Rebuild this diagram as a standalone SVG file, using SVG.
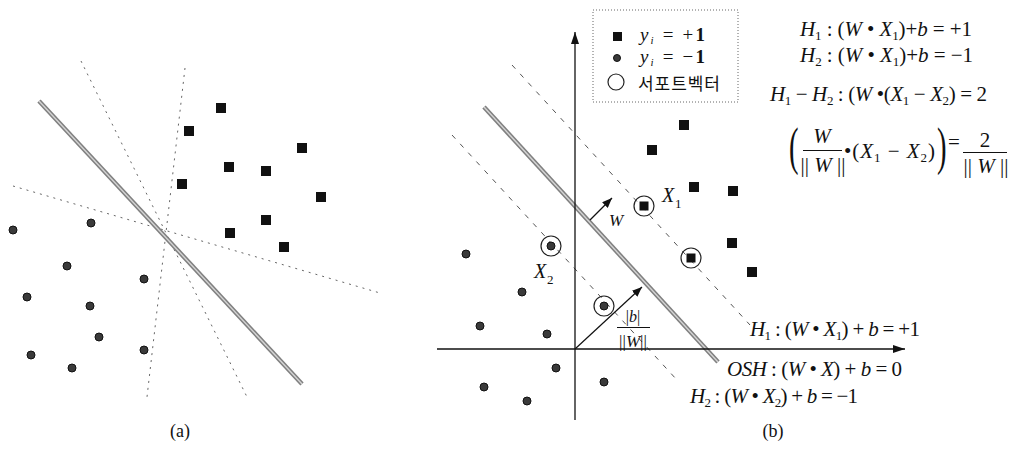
<svg xmlns="http://www.w3.org/2000/svg" width="1012" height="458" viewBox="0 0 1012 458">
<style>
.bg{fill:#fff}
.t{font-family:"Liberation Serif","Times New Roman",serif;fill:#111}
.eq{font-size:21px}
.i{font-style:italic}
.s{font-size:13px}
.sq{fill:#111}
.dot{fill:#3a3a3a;stroke:#111;stroke-width:1}
.sv{fill:none;stroke:#222;stroke-width:1.2}
.dash-a{stroke:#666;stroke-width:1;stroke-dasharray:2 5;fill:none}
.dash-b{stroke:#555;stroke-width:1;stroke-dasharray:5 7;fill:none}
.thick-o{stroke:#808080;stroke-width:4.5;fill:none}
.thick-i{stroke:#d4d4d4;stroke-width:1.4;fill:none}
.ax{stroke:#111;stroke-width:1.3;fill:none}
.ar{stroke:#111;stroke-width:1.2;fill:none}
.kr{font-family:"Noto Sans CJK KR","Noto Sans",sans-serif;font-size:17px;fill:#111}
</style>
<defs>
<marker id="ah" viewBox="0 0 12 8" refX="12" refY="4" markerWidth="12" markerHeight="8" markerUnits="userSpaceOnUse" orient="auto"><path d="M0,0 L12,4 L0,8 z" fill="#111"/></marker>
<marker id="ahs" viewBox="0 0 10 8" refX="10" refY="4" markerWidth="10" markerHeight="8" markerUnits="userSpaceOnUse" orient="auto"><path d="M0,0 L10,4 L0,8 z" fill="#111"/></marker>
</defs>
<rect class="bg" x="0" y="0" width="1012" height="458"/>

<!-- Panel (a) lines -->
<g id="lines-a">
<line class="dash-a" x1="81" y1="61" x2="248" y2="399"/>
<line class="dash-a" x1="185" y1="68" x2="147" y2="397"/>
<line class="dash-a" x1="13" y1="186" x2="380" y2="293"/>
<line class="thick-o" x1="39" y1="101" x2="302" y2="384"/>
<line class="thick-i" x1="39" y1="101" x2="302" y2="384"/>
</g>

<!-- Panel (b) lines -->
<g id="lines-b">
<line class="dash-b" x1="512" y1="65" x2="750" y2="325"/>
<line class="dash-b" x1="452" y1="135" x2="677" y2="380"/>
<line class="thick-o" x1="484" y1="107" x2="718" y2="362"/>
<line class="thick-i" x1="484" y1="107" x2="718" y2="362"/>
</g>

<g id="connectors">
<line class="ax" x1="575" y1="420" x2="575" y2="32" marker-end="url(#ah)"/>
<line class="ax" x1="437" y1="349" x2="905" y2="349" marker-end="url(#ah)"/>
<line class="ar" x1="590" y1="220" x2="612" y2="198" marker-end="url(#ahs)"/>
<line class="ar" x1="575" y1="349" x2="642" y2="287" marker-end="url(#ahs)"/>
</g>

<!-- Panel (a) points -->
<g id="a-pos">
<g id="a-s1"><rect class="sq" x="216" y="103" width="10" height="10"/></g>
<g id="a-s2"><rect class="sq" x="184" y="126" width="10" height="10"/></g>
<g id="a-s3"><rect class="sq" x="297" y="143" width="10" height="10"/></g>
<g id="a-s4"><rect class="sq" x="224" y="162" width="10" height="10"/></g>
<g id="a-s5"><rect class="sq" x="261" y="166" width="10" height="10"/></g>
<g id="a-s6"><rect class="sq" x="177" y="179" width="10" height="10"/></g>
<g id="a-s7"><rect class="sq" x="316" y="192" width="10" height="10"/></g>
<g id="a-s8"><rect class="sq" x="261" y="215" width="10" height="10"/></g>
<g id="a-s9"><rect class="sq" x="225" y="228" width="10" height="10"/></g>
<g id="a-s10"><rect class="sq" x="279" y="242" width="10" height="10"/></g>
</g>
<g id="a-neg">
<g id="a-d1"><circle class="dot" cx="13" cy="230" r="4"/></g>
<g id="a-d2"><circle class="dot" cx="91" cy="223" r="4"/></g>
<g id="a-d3"><circle class="dot" cx="67" cy="266" r="4"/></g>
<g id="a-d4"><circle class="dot" cx="144" cy="279" r="4"/></g>
<g id="a-d5"><circle class="dot" cx="27" cy="297" r="4"/></g>
<g id="a-d6"><circle class="dot" cx="90" cy="306" r="4"/></g>
<g id="a-d7"><circle class="dot" cx="99" cy="337" r="4"/></g>
<g id="a-d8"><circle class="dot" cx="31" cy="355" r="4"/></g>
<g id="a-d9"><circle class="dot" cx="144" cy="350" r="4"/></g>
<g id="a-d10"><circle class="dot" cx="72" cy="368" r="4"/></g>
</g>

<!-- Panel (b) points -->
<g id="b-pos">
<g id="b-s1"><rect class="sq" x="679" y="120" width="10" height="10"/></g>
<g id="b-s2"><rect class="sq" x="647" y="145" width="10" height="10"/></g>
<g id="b-s3"><rect class="sq" x="689" y="182" width="10" height="10"/></g>
<g id="b-s4"><rect class="sq" x="728" y="186" width="10" height="10"/></g>
<g id="b-s5"><rect class="sq" x="727" y="238" width="10" height="10"/></g>
<g id="b-s6"><rect class="sq" x="747" y="267" width="10" height="10"/></g>
<g id="b-sv1"><rect class="sq" x="639.5" y="201.5" width="9" height="9"/><circle class="sv" cx="644" cy="206" r="10"/></g>
<g id="b-sv2"><rect class="sq" x="686.5" y="253.5" width="9" height="9"/><circle class="sv" cx="691" cy="258" r="10"/></g>
</g>
<g id="b-neg">
<g id="b-d1"><circle class="dot" cx="466" cy="254" r="4"/></g>
<g id="b-d2"><circle class="dot" cx="522" cy="292" r="4"/></g>
<g id="b-d3"><circle class="dot" cx="480" cy="326" r="4"/></g>
<g id="b-d4"><circle class="dot" cx="547" cy="334" r="4"/></g>
<g id="b-d5"><circle class="dot" cx="556" cy="368" r="4"/></g>
<g id="b-d6"><circle class="dot" cx="484" cy="387" r="4"/></g>
<g id="b-d7"><circle class="dot" cx="527" cy="401" r="4"/></g>
<g id="b-d8"><circle class="dot" cx="604" cy="382" r="4"/></g>
<g id="b-sv3"><circle class="dot" cx="551" cy="246" r="4"/><circle class="sv" cx="551" cy="246" r="10"/></g>
<g id="b-sv4"><circle class="dot" cx="604" cy="306" r="4"/><circle class="sv" cx="604" cy="306" r="10"/></g>
</g>

<!-- point labels -->
<g id="labels-b">
<text class="t i" x="662" y="202" font-size="20">X</text><text class="t" x="675" y="208" font-size="13">1</text>
<text class="t i" x="534" y="278" font-size="20">X</text><text class="t" x="547" y="284" font-size="13">2</text>
<text class="t i" x="609" y="226" font-size="17">W</text>
<g id="b-frac">
<text class="t" x="633" y="322" font-size="16" text-anchor="middle">|<tspan class="i">b</tspan>|</text>
<line x1="617" y1="327.5" x2="650" y2="327.5" stroke="#111" stroke-width="1"/>
<text class="t" x="633" y="347" font-size="17" text-anchor="middle">||<tspan class="i">W</tspan>||</text>
</g>
</g>

<!-- legend -->
<g id="legend">
<rect x="593" y="10" width="145" height="92" fill="none" stroke="#666" stroke-width="1" stroke-dasharray="1 2"/>
<rect class="sq" x="613" y="32" width="9" height="9"/>
<text class="t" x="640" y="41" font-size="19" textLength="65" lengthAdjust="spacing"><tspan class="i">y</tspan><tspan font-size="11" dy="3" class="i">i</tspan><tspan dy="-3"> = +</tspan><tspan font-weight="bold">1</tspan></text>
<circle class="dot" cx="617" cy="58" r="3.5"/>
<text class="t" x="640" y="63" font-size="19" textLength="65" lengthAdjust="spacing"><tspan class="i">y</tspan><tspan font-size="11" dy="3" class="i">i</tspan><tspan dy="-3"> = −</tspan><tspan font-weight="bold">1</tspan></text>
<circle class="sv" cx="616" cy="82" r="8"/>
<text class="kr" x="638" y="90" font-size="16" textLength="82" lengthAdjust="spacing">서포트벡터</text>
</g>

<!-- equations top right -->
<g id="equations">
<text class="t eq" x="800" y="36" textLength="172" lengthAdjust="spacing"><tspan class="i">H</tspan><tspan class="s" dy="4">1</tspan><tspan dy="-4"> : (</tspan><tspan class="i">W</tspan> • <tspan class="i">X</tspan><tspan class="s" dy="4">1</tspan><tspan dy="-4">)+</tspan><tspan class="i">b</tspan> = +1</text>
<text class="t eq" x="800" y="62" textLength="173" lengthAdjust="spacing"><tspan class="i">H</tspan><tspan class="s" dy="4">2</tspan><tspan dy="-4"> : (</tspan><tspan class="i">W</tspan> • <tspan class="i">X</tspan><tspan class="s" dy="4">1</tspan><tspan dy="-4">)+</tspan><tspan class="i">b</tspan> = −1</text>
<text class="t eq" x="770" y="101" textLength="217" lengthAdjust="spacing"><tspan class="i">H</tspan><tspan class="s" dy="4">1</tspan><tspan dy="-4"> − </tspan><tspan class="i">H</tspan><tspan class="s" dy="4">2</tspan><tspan dy="-4"> : (</tspan><tspan class="i">W</tspan> •(<tspan class="i">X</tspan><tspan class="s" dy="4">1</tspan><tspan dy="-4"> − </tspan><tspan class="i">X</tspan><tspan class="s" dy="4">2</tspan><tspan dy="-4">) = 2</tspan></text>
<g id="eq4">
<text class="t" font-size="52" transform="translate(789,164) scale(0.55,1)">(</text>
<text class="t eq i" x="822" y="143" text-anchor="middle">W</text>
<line x1="803" y1="150.5" x2="842" y2="150.5" stroke="#111" stroke-width="1"/>
<text class="t eq" x="823" y="172" text-anchor="middle">|| <tspan class="i">W</tspan> ||</text>
<text class="t eq" x="844" y="158" textLength="91" lengthAdjust="spacing">•(<tspan class="i">X</tspan><tspan class="s" dy="4">1</tspan><tspan dy="-4"> − </tspan><tspan class="i">X</tspan><tspan class="s" dy="4">2</tspan><tspan dy="-4">)</tspan></text>
<text class="t" font-size="52" transform="translate(937,164) scale(0.55,1)">)</text>
<text class="t eq" x="948" y="149">=</text>
<text class="t eq" x="985" y="147" text-anchor="middle">2</text>
<line x1="963" y1="152.5" x2="1007" y2="152.5" stroke="#111" stroke-width="1"/>
<text class="t eq" x="986" y="173" text-anchor="middle">|| <tspan class="i">W</tspan> ||</text>
</g>
</g>

<!-- hyperplane labels -->
<g id="plane-labels">
<text class="t eq" x="750" y="336" textLength="170" lengthAdjust="spacing"><tspan class="i">H</tspan><tspan class="s" dy="4">1</tspan><tspan dy="-4"> : (</tspan><tspan class="i">W</tspan> • <tspan class="i">X</tspan><tspan class="s" dy="4">1</tspan><tspan dy="-4">) + </tspan><tspan class="i">b</tspan> = +1</text>
<text class="t eq" x="727" y="376" textLength="175" lengthAdjust="spacing"><tspan class="i">OSH</tspan> : (<tspan class="i">W</tspan> • <tspan class="i">X</tspan>) + <tspan class="i">b</tspan> = 0</text>
<text class="t eq" x="690" y="403" textLength="168" lengthAdjust="spacing"><tspan class="i">H</tspan><tspan class="s" dy="4">2</tspan><tspan dy="-4"> : (</tspan><tspan class="i">W</tspan> • <tspan class="i">X</tspan><tspan class="s" dy="4">2</tspan><tspan dy="-4">) + </tspan><tspan class="i">b</tspan> = −1</text>
</g>

<g id="captions">
<text class="t" x="180" y="437" font-size="18" text-anchor="middle">(a)</text>
<text class="t" x="773" y="437" font-size="18" text-anchor="middle">(b)</text>
</g>
</svg>
